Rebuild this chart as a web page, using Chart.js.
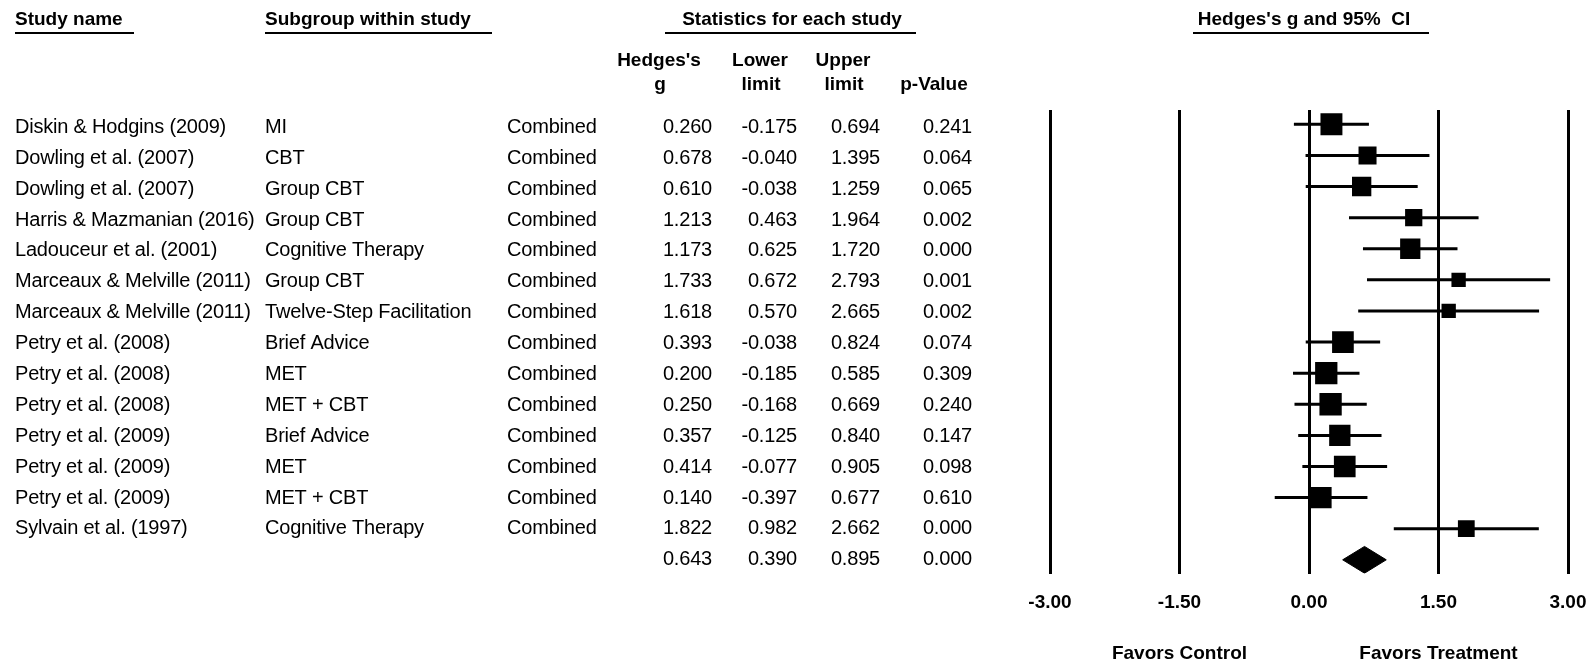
<!DOCTYPE html>
<html>
<head>
<meta charset="utf-8">
<title>Forest plot</title>
<script src="https://cdn.jsdelivr.net/npm/chart.js"></script>
<style>
  html, body { margin: 0; padding: 0; background: #fff; }
  #wrap { width: 1591px; height: 664px; position: relative; }
</style>
</head>
<body>
<div id="wrap"><canvas id="forestChart"></canvas></div>
<script>
// table data, one entry per study row
var studyNames = [
    'Diskin & Hodgins (2009)', 'Dowling et al. (2007)', 'Dowling et al. (2007)',
    'Harris & Mazmanian (2016)', 'Ladouceur et al. (2001)', 'Marceaux & Melville (2011)',
    'Marceaux & Melville (2011)', 'Petry et al. (2008)', 'Petry et al. (2008)',
    'Petry et al. (2008)', 'Petry et al. (2009)', 'Petry et al. (2009)',
    'Petry et al. (2009)', 'Sylvain et al. (1997)'
];
var subgroups = [
    'MI', 'CBT', 'Group CBT', 'Group CBT', 'Cognitive Therapy', 'Group CBT',
    'Twelve-Step Facilitation', 'Brief Advice', 'MET', 'MET + CBT',
    'Brief Advice', 'MET', 'MET + CBT', 'Cognitive Therapy'
];
var hedgesG    = [0.260, 0.678, 0.610, 1.213, 1.173, 1.733, 1.618, 0.393, 0.200, 0.250, 0.357, 0.414, 0.140, 1.822];
var lowerLimit = [-0.175, -0.040, -0.038, 0.463, 0.625, 0.672, 0.570, -0.038, -0.185, -0.168, -0.125, -0.077, -0.397, 0.982];
var upperLimit = [0.694, 1.395, 1.259, 1.964, 1.720, 2.793, 2.665, 0.824, 0.585, 0.669, 0.840, 0.905, 0.677, 2.662];
var pValues    = [0.241, 0.064, 0.065, 0.002, 0.000, 0.001, 0.002, 0.074, 0.309, 0.240, 0.147, 0.098, 0.610, 0.000];
// relative weight (%)
var weights    = [8.9, 6.0, 6.9, 5.5, 7.6, 3.8, 3.8, 8.7, 9.2, 9.2, 8.4, 8.7, 8.2, 5.2];

// pooled (combined) effect
var pooledG = 0.643;
var pooledLower = 0.390;
var pooledUpper = 0.895;
var pooledP = 0.000;

var xTicks = [-3, -1.5, 0, 1.5, 3];
var favorLabels = ['Favors Control', 'Favors Treatment'];
var favorAt = [-1.5, 1.5];

var FONT = "'Liberation Sans', Arial, sans-serif";
var nRows = studyNames.length + 1;   // studies + pooled row
var pooledRow = nRows;

// build chart datasets from the arrays
var boxPoints = hedgesG.map(function (g, i) { return { x: g, y: i + 1 }; });
var boxRadius = weights.map(function (w) { return 5.2 * Math.sqrt(w); });

var ciPoints = [];
hedgesG.forEach(function (g, i) {
    ciPoints.push({ x: lowerLimit[i], y: i + 1 });
    ciPoints.push({ x: upperLimit[i], y: i + 1 });
    ciPoints.push({ x: null, y: null });
});

var halfH = 0.43;
var diamondPoints = [
    { x: pooledLower, y: pooledRow },
    { x: pooledG, y: pooledRow - halfH },
    { x: pooledUpper, y: pooledRow },
    { x: pooledG, y: pooledRow + halfH },
    { x: pooledLower, y: pooledRow }
];

function fmt(v) { return v.toFixed(3); }

var tablePlugin = {
    id: 'tableText',
    afterDraw: function (chart) {
        var ctx = chart.ctx;
        var yScale = chart.scales.y;
        var xScale = chart.scales.x;
        ctx.save();
        ctx.fillStyle = '#000';
        ctx.strokeStyle = '#000';

        // top headers with underlines
        ctx.font = 'bold 19px ' + FONT;
        ctx.textBaseline = 'middle';
        ctx.textAlign = 'left';
        ctx.fillText('Study name', 15, 20);
        ctx.fillText('Subgroup within study', 265, 20);
        ctx.textAlign = 'center';
        ctx.fillText('Statistics for each study', 792, 20);
        ctx.fillText("Hedges's g and 95%  CI", 1304, 20);

        ctx.lineWidth = 2;
        [[15, 134], [265, 492], [665, 916], [1193, 1429]].forEach(function (u) {
            ctx.beginPath();
            ctx.moveTo(u[0], 33);
            ctx.lineTo(u[1], 33);
            ctx.stroke();
        });

        // column headers
        ctx.fillText("Hedges's", 659, 61);
        ctx.fillText('g', 660, 85);
        ctx.fillText('Lower', 760, 61);
        ctx.fillText('limit', 761, 85);
        ctx.fillText('Upper', 843, 61);
        ctx.fillText('limit', 844, 85);
        ctx.fillText('p-Value', 934, 85);

        // rows (text sits a little below the marks at the top, level at the bottom)
        ctx.font = '20px ' + FONT;
        ctx.letterSpacing = '-0.2px';
        for (var i = 0; i < nRows; i++) {
            var y = yScale.getPixelForValue(i + 1) + 3 - 3 * i / (nRows - 1);
            var isPooled = (i === nRows - 1);
            ctx.textAlign = 'left';
            if (!isPooled) {
                ctx.fillText(studyNames[i], 15, y);
                ctx.fillText(subgroups[i], 265, y);
                ctx.fillText('Combined', 507, y);
            }
            ctx.textAlign = 'right';
            ctx.fillText(fmt(isPooled ? pooledG : hedgesG[i]), 712, y);
            ctx.fillText(fmt(isPooled ? pooledLower : lowerLimit[i]), 797, y);
            ctx.fillText(fmt(isPooled ? pooledUpper : upperLimit[i]), 880, y);
            ctx.fillText(fmt(isPooled ? pooledP : pValues[i]), 972, y);
        }
        ctx.letterSpacing = '0px';

        // favours labels under the axis
        ctx.font = 'bold 19px ' + FONT;
        ctx.textAlign = 'center';
        favorLabels.forEach(function (lbl, k) {
            ctx.fillText(lbl, xScale.getPixelForValue(favorAt[k]), 654);
        });
        ctx.restore();
    }
};

var ctx = document.getElementById('forestChart').getContext('2d');
var forestChart = new Chart(ctx, {
    type: 'scatter',
    data: {
        datasets: [
            {
                // boxes, sized by weight
                data: boxPoints,
                pointStyle: 'rect',
                pointRadius: boxRadius,
                backgroundColor: '#000',
                borderWidth: 0
            },
            {
                // confidence intervals
                data: ciPoints,
                showLine: true,
                borderColor: '#000',
                borderWidth: 3,
                borderCapStyle: 'butt',
                pointRadius: 0,
                spanGaps: false
            },
            {
                // pooled diamond
                data: diamondPoints,
                showLine: true,
                borderColor: '#000',
                backgroundColor: '#000',
                borderWidth: 1,
                pointRadius: 0,
                tension: 0,
                fill: 'shape'
            }
        ]
    },
    options: {
        responsive: true,
        maintainAspectRatio: false,
        animation: false,
        events: [],
        layout: { padding: { left: 1050, right: 23, top: 110, bottom: 0 } },
        plugins: {
            legend: { display: false },
            tooltip: { enabled: false }
        },
        scales: {
            x: {
                type: 'linear',
                min: -3,
                max: 3,
                afterBuildTicks: function (scale) {
                    scale.ticks = xTicks.map(function (v) { return { value: v }; });
                },
                afterFit: function (scale) { scale.height = 90.5; },
                ticks: {
                    color: '#000',
                    padding: 0,
                    maxRotation: 0,
                    font: { family: FONT, size: 19, weight: 'bold' },
                    callback: function (v) { return Number(v).toFixed(2); }
                },
                grid: {
                    color: '#000',
                    lineWidth: 3,
                    drawTicks: true,
                    tickLength: 18,
                    tickColor: 'rgba(0,0,0,0)'
                },
                border: { display: false }
            },
            y: {
                type: 'linear',
                display: false,
                reverse: true,
                min: 0.54,
                max: 15.44
            }
        }
    },
    plugins: [tablePlugin]
});
</script>
</body>
</html>
